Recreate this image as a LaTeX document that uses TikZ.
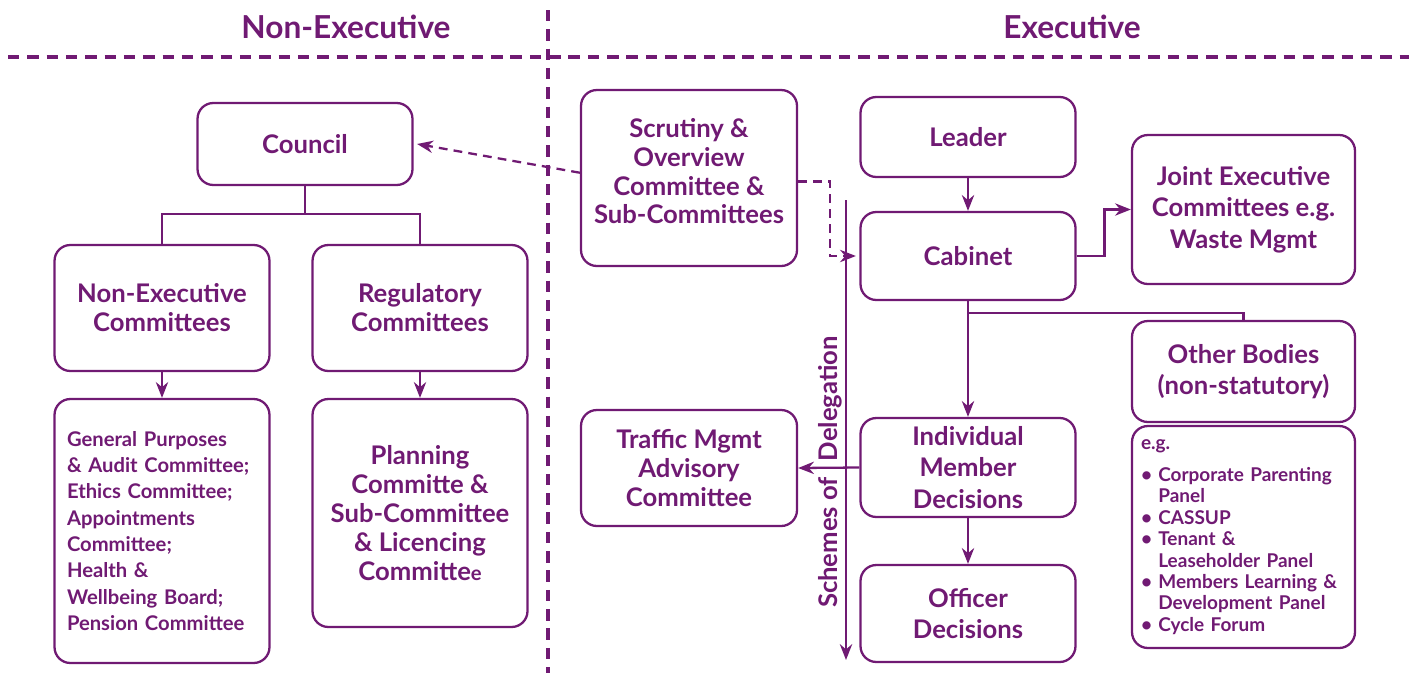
\documentclass[tikz,border=0pt]{standalone}
\usepackage{fontspec}
\setmainfont{Lato}
\usetikzlibrary{arrows.meta}
\definecolor{plum}{RGB}{112,26,115}

\begin{document}
\begin{tikzpicture}[x=0.02cm, y=-0.02cm,
		every node/.style={text=plum},
		box/.style={draw=plum, line width=1.3pt, rounded corners=9pt, align=center, inner sep=0pt, minimum width=4.3cm, font=\bfseries\fontsize{14.6}{16.5}\selectfont},
		tall/.style={font=\bfseries\fontsize{14.6}{18}\selectfont},
		list/.style={align=left, font=\bfseries\fontsize{11.5}{15}\selectfont},
		link/.style={draw=plum, line width=1.3pt},
		dlink/.style={link, dash pattern=on 5pt off 3.5pt},
		tip/.style={-{Stealth[length=9pt,width=7pt]}},
		divider/.style={draw=plum, line width=2.8pt, dash pattern=on 6.5pt off 4.5pt},
		heading/.style={font=\bfseries\fontsize{18}{20}\selectfont}]
	\useasboundingbox (0,0) rectangle (1409,673);
	% the split between the two sides
	\coordinate (hl) at (8,57);   \coordinate (hr) at (1409,57);
	\coordinate (vt) at (548,10); \coordinate (vb) at (548,673);
	\draw[divider] (hl) -- (hr);
	\draw[divider] (vt) -- (vb);
	\node[heading] (nonexechead) at (346,27) {Non-Executive};
	\node[heading] (exechead) at (1072,27) {Executive};

	% non-executive side
	\node[box, minimum height=1.64cm] (council) at (305,144) {Council};
	\node[box, minimum height=2.52cm] (nonexec) at (162,308) {Non-Executive\\Committees};
	\node[box, minimum height=2.52cm] (regulatory) at (420,308) {Regulatory\\Committees};
	\node[box, list, minimum height=5.28cm, text width=3.8cm] (gencomm) at (162,531)
		{General Purposes\\ \& Audit Committee;\\ Ethics Committee;\\ Appointments\\ Committee;\\ Health \&\\ Wellbeing Board;\\ Pension Committee};
	\node[box, minimum height=4.56cm] (planning) at (420,513)
		{Planning\\Committe \&\\Sub-Committee\\\& Licencing\\Committe{\fontsize{11.5}{16.5}\selectfont e}};

	\draw[link] (council.south) -- ++(0,28) coordinate (fork);
	\draw[link] (nonexec.north) |- (fork) -| (regulatory.north);
	\draw[link, tip] (nonexec) -- (gencomm);
	\draw[link, tip] (regulatory) -- (planning);

	% executive side
	\node[box, minimum width=4.32cm, minimum height=3.52cm] (scrutiny) at (689,178)
		{Scrutiny \&\\Overview\\Committee \&\\Sub-Committees\\[-8.5pt]};
	\node[box, minimum height=1.6cm] (leader) at (968,137) {Leader};
	\node[box, minimum height=1.76cm] (cabinet) at (968,256) {Cabinet};
	\node[box, tall, minimum width=4.46cm, minimum height=2.98cm] (joint) at (1243.5,209.5)
		{Joint Executive\\Committees e.g.\\Waste Mgmt};
	\node[box, tall, minimum width=4.46cm, minimum height=2.02cm] (otherbodies) at (1243.5,371.5)
		{Other Bodies\\(non-statutory)};
	\node[box, align=left, font=\bfseries\fontsize{10.8}{12.2}\selectfont, minimum width=4.46cm, minimum height=4.44cm, text width=4.1cm] (examples) at (1243.5,537)
		{e.g.\\[6pt]
		\textbullet\ Corporate Parenting\\ \hphantom{\textbullet\ }Panel\\
		\textbullet\ CASSUP\\
		\textbullet\ Tenant \&\\ \hphantom{\textbullet\ }Leaseholder Panel\\
		\textbullet\ Members Learning \&\\ \hphantom{\textbullet\ }Development Panel\\
		\textbullet\ Cycle Forum};
	\node[box, minimum width=4.32cm, minimum height=2.32cm] (traffic) at (689,468)
		{Traffic Mgmt\\Advisory\\Committee};
	\node[box, tall, minimum height=1.98cm] (individual) at (968,467.5)
		{Individual\\Member\\Decisions};
	\node[box, tall, minimum height=1.94cm] (officer) at (968,613.5)
		{Officer\\Decisions};

	% delegation line
	\coordinate (deltop) at (846,200);
	\coordinate (delbot) at (846,660);
	\draw[link, tip] (deltop) -- (delbot);
	\node[rotate=90, font=\bfseries\fontsize{14.6}{16.5}\selectfont] (schemes) at (830,472)
		{Schemes of\hspace{9pt}Delegation};

	\draw[dlink, tip] ([yshift=3pt]scrutiny.west) -- ([xshift=2pt]council.east);
	\draw[dlink, tip] ([yshift=-2pt]scrutiny.east) -- ++(32,0) |- ([xshift=-2pt]cabinet.west);
	\draw[link, tip] (leader) -- (cabinet);
	\draw[link, tip] (cabinet.east) -- ++(28,0) |- (joint.west);
	\draw[link, tip] (cabinet) -- (individual);
	\draw[link] (cabinet.south) ++(0,12) coordinate (branch) -| (otherbodies.north);
	\draw[link, tip] (individual.west) -- (traffic.east);
	\draw[link, tip] (individual) -- (officer);
\end{tikzpicture}
\end{document}
